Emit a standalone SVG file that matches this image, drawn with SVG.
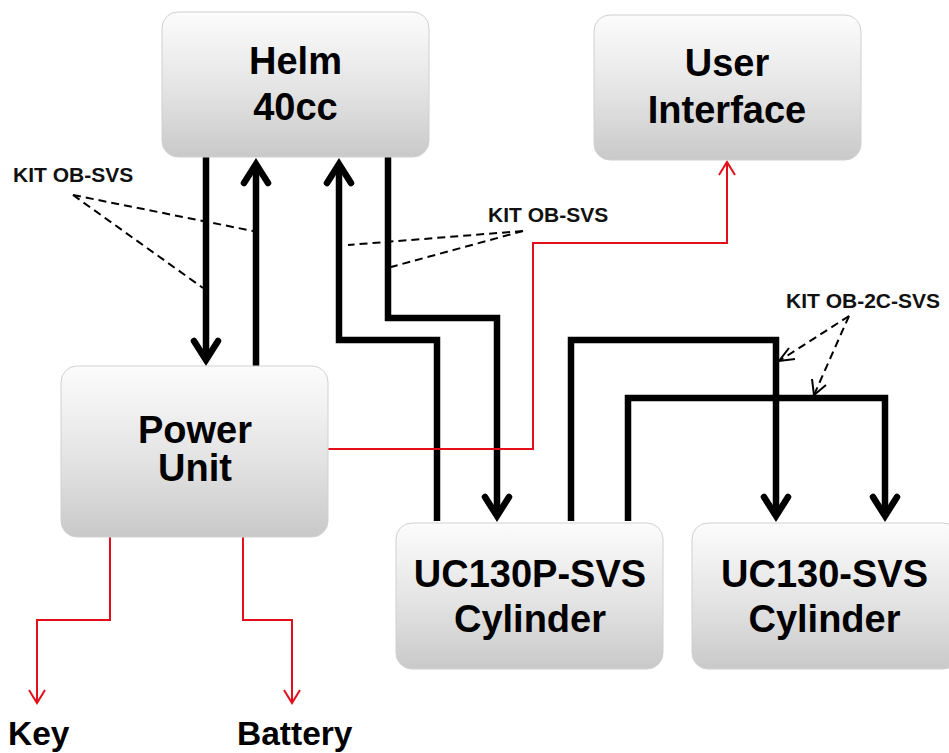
<svg xmlns="http://www.w3.org/2000/svg" width="949" height="753" viewBox="0 0 949 753">
<defs>
<linearGradient id="g" x1="0" y1="0" x2="0" y2="1">
<stop offset="0" stop-color="#fcfcfc"/>
<stop offset="0.55" stop-color="#e3e3e3"/>
<stop offset="1" stop-color="#c9c9c9"/>
</linearGradient>
<style>
.box{fill:url(#g);stroke:#d0d0d0;stroke-width:1}
.t{font-family:"Liberation Sans",Arial,sans-serif;font-weight:bold;font-size:38px;fill:#000;text-anchor:middle}
.lbl{font-family:"Liberation Sans",Arial,sans-serif;font-weight:bold;font-size:21px;fill:#111}
.end{font-family:"Liberation Sans",Arial,sans-serif;font-weight:bold;font-size:33.5px;fill:#000}
.k{fill:none;stroke:#000;stroke-width:6.5;stroke-linejoin:miter}
.kh{fill:none;stroke:#000;stroke-width:6.5;stroke-linejoin:miter;stroke-linecap:round}
.r{fill:none;stroke:#e3101c;stroke-width:2}
.d{fill:none;stroke:#000;stroke-width:2;stroke-dasharray:8 5}
.dh{fill:none;stroke:#000;stroke-width:2}
</style>
</defs>
<rect width="949" height="753" fill="#fff"/>

<g id="connectors">
<path class="k" d="M206,157 V358"/>
<path class="kh" d="M194,341 L206,360 L218,341"/>
<path class="k" d="M256,366 V166"/>
<path class="kh" d="M244,183 L256,164 L268,183"/>
<path class="k" d="M437,521 V340 H339 V166"/>
<path class="kh" d="M327,183 L339,164 L351,183"/>
<path class="k" d="M388,157 V318 H497 V514"/>
<path class="kh" d="M485,497 L497,516 L509,497"/>
<path class="k" d="M571,521 V340 H776 V514"/>
<path class="kh" d="M764,497 L776,516 L788,497"/>
<path class="k" d="M628,521 V398 H885 V514"/>
<path class="kh" d="M873,497 L885,516 L897,497"/>
<path class="r" d="M328,449 H533 V243 H727 V163"/>
<path class="r" d="M719,175 L727,162 L735,175"/>
<path class="r" d="M110,537 V620 H37 V703"/>
<path class="r" d="M29,690 L37,703 L45,690"/>
<path class="r" d="M243,537 V620 H292 V703"/>
<path class="r" d="M284,690 L292,703 L300,690"/>
<path class="d" d="M73,195 L253,231"/>
<path class="d" d="M73,195 L203,288"/>
<path class="d" d="M523,231 L348,245"/>
<path class="d" d="M523,231 L391,267"/>
<path class="d" d="M849,316 L779,361"/>
<path class="dh" d="M789,348 L779,361 L795,359"/>
<path class="d" d="M849,316 L814,395"/>
<path class="dh" d="M812,379 L814,395 L826,385"/>
</g>

<g id="helm">
<rect class="box" x="162" y="12" width="267" height="145" rx="16"/>
<text class="t" x="295.5" y="74">Helm</text>
<text class="t" x="295.5" y="120">40cc</text>
</g>
<g id="user-interface">
<rect class="box" x="594" y="15" width="267" height="145" rx="16"/>
<text class="t" x="727" y="76">User</text>
<text class="t" x="727" y="123">Interface</text>
</g>
<g id="power-unit">
<rect class="box" x="61" y="366" width="267" height="171" rx="16"/>
<text class="t" x="195" y="443">Power</text>
<text class="t" x="195" y="481">Unit</text>
</g>
<g id="uc130p">
<rect class="box" x="396" y="523" width="267" height="146" rx="16"/>
<text class="t" x="530" y="587">UC130P-SVS</text>
<text class="t" x="530" y="632">Cylinder</text>
</g>
<g id="uc130">
<rect class="box" x="692" y="523" width="267" height="146" rx="16"/>
<text class="t" x="824.5" y="587">UC130-SVS</text>
<text class="t" x="824.5" y="632">Cylinder</text>
</g>

<g id="labels">
<text class="lbl" x="13" y="182">KIT OB-SVS</text>
<text class="lbl" x="488" y="222">KIT OB-SVS</text>
<text class="lbl" x="786" y="308">KIT OB-2C-SVS</text>
</g>
<g id="key"><text class="end" x="8" y="745">Key</text></g>
<g id="battery"><text class="end" x="237" y="745">Battery</text></g>
</svg>
